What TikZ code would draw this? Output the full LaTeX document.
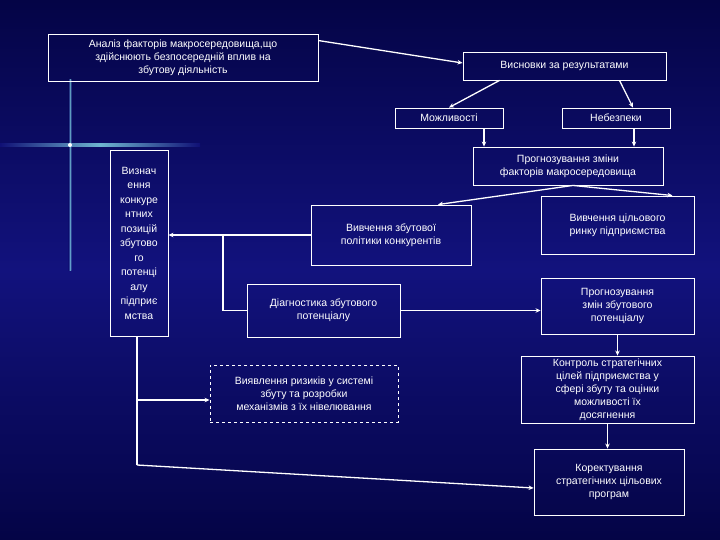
\documentclass[tikz,border=0pt]{standalone}
\usepackage{fontspec}
\setmainfont{Liberation Sans}
\usetikzlibrary{arrows.meta}
\definecolor{bgA}{RGB}{4,4,70}
\definecolor{bgB}{RGB}{18,18,125}
\begin{document}
\begin{tikzpicture}[x=1pt,y=-1pt,
  box/.style={draw=white, line width=0.9pt, text=white, align=center, inner sep=1pt,
    font=\fontsize{10.5}{13}\selectfont},
  arr/.style={draw=white, line width=1.3pt, -{Stealth[length=5pt,width=4.5pt]}},
  ln/.style={draw=white, line width=1.3pt}]
\useasboundingbox (0,0) rectangle (720,540);
\shade[top color=bgA, bottom color=bgA, middle color=bgB] (0,0) rectangle (720,540);
% flare
\shade[left color=bgB, right color=bgB, middle color=cyan!40!white, opacity=0.6] (68.5,80) rectangle (71.5,270);
\shade[left color=bgB, right color=bgB, middle color=white!60!cyan, opacity=0.7] (0,143.5) rectangle (200,146.5);
\fill[white] (70,145) circle (2);
% nodes
\node[box, minimum width=270, minimum height=47] (a) at (183,57.5) {Аналіз факторів макросередовища,що\\здійснюють безпосередній вплив на\\збутову діяльність};
\node[box, minimum width=203, minimum height=28] (v) at (564.5,66) {Висновки за результатами};
\node[box, minimum width=108, minimum height=20] (m) at (449,118) {Можливості};
\node[box, minimum width=108, minimum height=20] (n) at (616,118) {Небезпеки};
\node[box, minimum width=190, minimum height=38] (p) at (568,166) {Прогнозування зміни\\факторів макросередовища};
\node[box, minimum width=58, minimum height=186, font=\fontsize{10.5}{14.5}\selectfont] (z) at (139,243) {Визнач\\ення\\конкуре\\нтних\\позицій\\збутово\\го\\потенці\\алу\\підприє\\мства};
\node[box, minimum width=160, minimum height=60] (vz) at (391,235) {Вивчення збутової\\політики конкурентів};
\node[box, minimum width=153, minimum height=58] (vt) at (617.5,225) {Вивчення цільового\\ринку підприємства};
\node[box, minimum width=153, minimum height=53] (d) at (323.5,310.5) {Діагностика збутового\\потенціалу};
\node[box, minimum width=153, minimum height=56] (pz) at (617.5,306) {Прогнозування\\змін збутового\\потенціалу};
\node[box, dashed, minimum width=188, minimum height=57] (r) at (304,393.5) {Виявлення ризиків у системі\\збуту та розробки\\механізмів з їх нівелювання};
\node[box, minimum width=173, minimum height=67] (k) at (607.5,389.5) {Контроль стратегічних\\цілей підприємства у\\сфері збуту та оцінки\\можливості їх\\досягнення};
\node[box, minimum width=150, minimum height=66] (kr) at (609,482) {Коректування\\стратегічних цільових\\програм};
% connectors
\draw[arr] ([yshift=-7]a.north east) -- ([yshift=3]v.west);
\draw[arr] ([xshift=-65]v.south) -- (m.north);
\draw[arr] ([xshift=55]v.south) -- ([xshift=17]n.north);
\draw[arr] ([xshift=35]m.south) -- ([xshift=-84]p.north);
\draw[arr] ([xshift=18]n.south) -- ([xshift=66]p.north);
\draw[arr] ([xshift=5]p.south) -- ([xshift=47]vz.north);
\draw[arr] ([xshift=5]p.south) -- ([xshift=55]vt.north);
\coordinate (jx) at (223,0);
\coordinate (j) at (jx |- vz.west);
\draw[ln] (vz.west) -- (j) |- (d.west);
\draw[arr] (j) -- (z.east |- j);
\draw[arr] (d.east) -- (d.east -| pz.west);
\draw[arr] (pz.south) -- (pz.south |- k.north);
\draw[arr] (k.south) -- (k.south |- kr.north);
\coordinate (b) at (137,465);
\draw[ln] (z.south -| b) -- (b);
\draw[arr] (b) -- ([yshift=-6]kr.west);
\coordinate (bb) at (137,400);
\draw[arr] (bb) -- (r.west |- bb);
\end{tikzpicture}
\end{document}
